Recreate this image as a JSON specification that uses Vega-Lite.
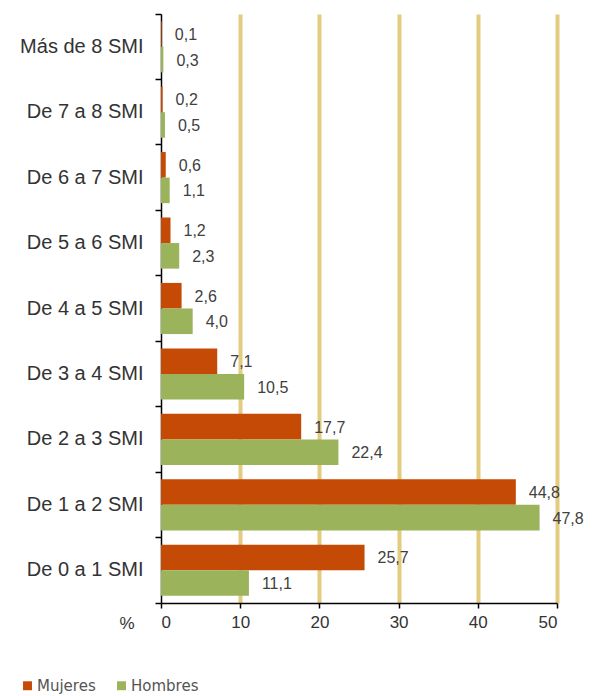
{
  "$schema": "https://vega.github.io/schema/vega-lite/v6.json",
  "width": 396,
  "height": 589,
  "autosize": {"type": "none"},
  "padding": {"left": 161, "top": 14, "right": 38, "bottom": 93},
  "background": "white",
  "data": {
    "values": [
      {"tramo": "Más de 8 SMI", "sexo": "Mujeres", "valor": 0.1},
      {"tramo": "Más de 8 SMI", "sexo": "Hombres", "valor": 0.3},
      {"tramo": "De 7 a 8 SMI", "sexo": "Mujeres", "valor": 0.2},
      {"tramo": "De 7 a 8 SMI", "sexo": "Hombres", "valor": 0.5},
      {"tramo": "De 6 a 7 SMI", "sexo": "Mujeres", "valor": 0.6},
      {"tramo": "De 6 a 7 SMI", "sexo": "Hombres", "valor": 1.1},
      {"tramo": "De 5 a 6 SMI", "sexo": "Mujeres", "valor": 1.2},
      {"tramo": "De 5 a 6 SMI", "sexo": "Hombres", "valor": 2.3},
      {"tramo": "De 4 a 5 SMI", "sexo": "Mujeres", "valor": 2.6},
      {"tramo": "De 4 a 5 SMI", "sexo": "Hombres", "valor": 4.0},
      {"tramo": "De 3 a 4 SMI", "sexo": "Mujeres", "valor": 7.1},
      {"tramo": "De 3 a 4 SMI", "sexo": "Hombres", "valor": 10.5},
      {"tramo": "De 2 a 3 SMI", "sexo": "Mujeres", "valor": 17.7},
      {"tramo": "De 2 a 3 SMI", "sexo": "Hombres", "valor": 22.4},
      {"tramo": "De 1 a 2 SMI", "sexo": "Mujeres", "valor": 44.8},
      {"tramo": "De 1 a 2 SMI", "sexo": "Hombres", "valor": 47.8},
      {"tramo": "De 0 a 1 SMI", "sexo": "Mujeres", "valor": 25.7},
      {"tramo": "De 0 a 1 SMI", "sexo": "Hombres", "valor": 11.1}
    ]
  },
  "encoding": {
    "y": {
      "field": "tramo",
      "type": "nominal",
      "sort": ["Más de 8 SMI", "De 7 a 8 SMI", "De 6 a 7 SMI", "De 5 a 6 SMI", "De 4 a 5 SMI", "De 3 a 4 SMI", "De 2 a 3 SMI", "De 1 a 2 SMI", "De 0 a 1 SMI"],
      "scale": {"paddingInner": 0, "paddingOuter": 0},
      "axis": {
        "title": null,
        "bandPosition": 1,
        "tickExtra": true,
        "domainColor": "#000000",
        "domainWidth": 1.5,
        "tickColor": "#000000",
        "tickWidth": 1.5,
        "tickSize": 6,
        "labelFont": "Liberation Sans",
        "labelFontSize": 20,
        "labelColor": "#333333",
        "labelPadding": 12,
        "grid": false
      }
    },
    "yOffset": {
      "field": "sexo",
      "type": "nominal",
      "sort": ["Mujeres", "Hombres"],
      "scale": {"paddingInner": 0, "paddingOuter": 0.28}
    },
    "x": {
      "field": "valor",
      "type": "quantitative",
      "scale": {"domain": [0, 50], "nice": false},
      "axis": {
        "values": [0, 10, 20, 30, 40, 50],
        "title": "%",
        "titleX": -27,
        "titleY": 20,
        "titleAlign": "right",
        "titleBaseline": "middle",
        "titleFont": "Liberation Sans",
        "titleFontSize": 17,
        "titleFontWeight": "normal",
        "titleColor": "#333333",
        "domainColor": "#000000",
        "domainWidth": 1.5,
        "tickColor": "#000000",
        "tickWidth": 1.5,
        "tickSize": 5,
        "labelFont": "Liberation Sans",
        "labelFontSize": 17,
        "labelColor": "#333333",
        "labelPadding": 6,
        "grid": true,
        "gridColor": "#E3CB80",
        "gridWidth": 4,
        "gridOpacity": {"condition": {"test": "datum.value === 0", "value": 0}, "value": 1}
      }
    }
  },
  "layer": [
    {
      "mark": {"type": "bar"},
      "encoding": {
        "color": {
          "field": "sexo",
          "type": "nominal",
          "sort": ["Mujeres", "Hombres"],
          "scale": {"domain": ["Mujeres", "Hombres"], "range": ["#C44A05", "#9BB35A"]},
          "legend": {
            "orient": "none",
            "legendX": -141,
            "legendY": 664,
            "direction": "horizontal",
            "title": null,
            "symbolType": "square",
            "symbolSize": 80,
            "symbolStrokeWidth": 0,
            "labelFont": "DejaVu Sans",
            "labelFontSize": 15,
            "labelColor": "#555555",
            "labelOffset": 2,
            "columnPadding": 18
          }
        }
      }
    },
    {
      "mark": {"type": "text", "align": "left", "baseline": "middle", "dx": 13, "dy": 1, "font": "Liberation Sans", "fontSize": 16, "color": "#404040"},
      "encoding": {
        "text": {"field": "valor", "type": "quantitative", "format": ".1f"}
      }
    }
  ],
  "config": {
    "view": {"stroke": null},
    "locale": {"number": {"decimal": ",", "thousands": ".", "grouping": [3], "currency": ["", " €"]}}
  }
}
